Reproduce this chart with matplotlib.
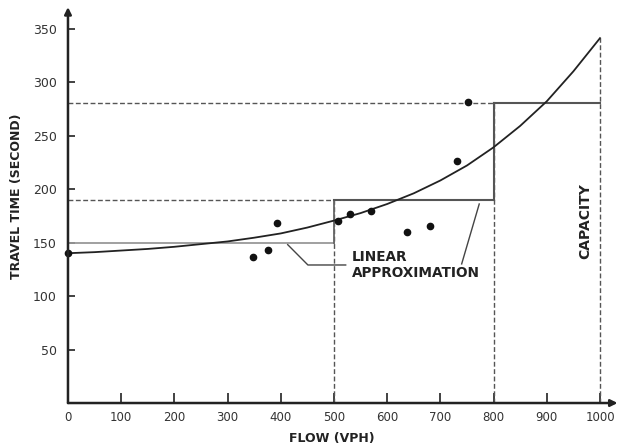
import matplotlib.pyplot as plt

# fitted travel time curve, every 50 vph
curve_flow = [0, 50, 100, 150, 200, 250, 300, 350, 400, 450, 500,
              550, 600, 650, 700, 750, 800, 850, 900, 950, 1000]
curve_time = [140, 141, 142.5, 144, 146, 148.5, 151, 154.5, 158.5, 164, 170.5,
              177.5, 186, 196, 208, 222, 239, 259, 282, 310, 341]

# observed points
obs_flow = [0, 348, 376, 393, 507, 530, 569, 637, 680, 731, 752]
obs_time = [140, 136, 143, 168, 170, 177, 179, 160, 165, 226, 281]

# linear (step) approximation
step_edges = [0, 500, 800, 1000]
step_times = [150, 190, 280]
capacity = 1000

xticks = [0, 100, 200, 300, 400, 500, 600, 700, 800, 900, 1000]
yticks = [50, 100, 150, 200, 250, 300, 350]

fig = plt.figure(figsize=(6.18, 4.48), dpi=100)
ax = fig.add_axes([0.110, 0.1004, 0.891, 0.8885])
ax.set_xlim(0, 1035)
ax.set_ylim(0, 372)

for s in ax.spines.values():
    s.set_visible(False)

# axes with arrow heads
ax.annotate('', xy=(0, 370), xytext=(0, 0),
            arrowprops=dict(arrowstyle='-|>', lw=1.8, color='#222', mutation_scale=10, shrinkA=0, shrinkB=0))
ax.annotate('', xy=(1033, 0), xytext=(0, 0),
            arrowprops=dict(arrowstyle='-|>', lw=1.8, color='#222', mutation_scale=10, shrinkA=0, shrinkB=0))

dash = dict(color='#555', lw=1.0, ls=(0, (3.5, 1.8)))
# dashed guide lines
ax.plot([0, step_edges[1]], [step_times[1], step_times[1]], **dash)
ax.plot([0, step_edges[2]], [step_times[2], step_times[2]], **dash)
ax.plot([step_edges[1], step_edges[1]], [0, step_times[1]], **dash)
ax.plot([step_edges[2], step_edges[2]], [0, step_times[2]], **dash)
ax.plot([capacity, capacity], [0, curve_time[-1]], **dash)

# step approximation
ax.plot([0, 500], [step_times[0], step_times[0]], color='#999', lw=1.3)
ax.plot([500, 500], [step_times[0], step_times[1]], color='#666', lw=1.3)
ax.plot([500, 800], [step_times[1], step_times[1]], color='#555', lw=1.5)
ax.plot([800, 800], [step_times[1], step_times[2]], color='#555', lw=1.5)
ax.plot([800, 1000], [step_times[2], step_times[2]], color='#555', lw=1.5)

# curve and observations
ax.plot(curve_flow, curve_time, color='#222', lw=1.3)
ax.plot(obs_flow, obs_time, 'o', color='#111', ms=4.5, clip_on=False)

# leader lines for label
ax.plot([413, 451, 522], [148, 129, 129], color='#444', lw=1.0)
ax.plot([740, 773], [130, 186], color='#444', lw=1.0)

ax.text(534, 129, 'LINEAR\nAPPROXIMATION', fontsize=9.8, fontweight='bold',
        color='#222', ha='left', va='center', linespacing=1.1)
ax.text(972, 170, 'CAPACITY', fontsize=10, fontweight='bold', color='#222',
        rotation=90, ha='center', va='center')

ax.set_xticks(xticks)
ax.set_yticks(yticks)
ax.tick_params(axis='x', direction='in', length=7, width=1.3, color='#333',
               labelsize=8.5, labelcolor='#333', pad=6)
ax.tick_params(axis='y', direction='in', length=5, width=1.3, color='#333',
               labelsize=9, labelcolor='#333', pad=8)
ax.set_xlabel('FLOW (VPH)', fontsize=9, fontweight='bold', color='#222')
ax.set_ylabel('TRAVEL TIME (SECOND)', fontsize=9, fontweight='bold', color='#222')
ax.xaxis.set_label_coords(495 / 1035, -0.072)
ax.yaxis.set_label_coords(-0.081, 0.52)

fig.savefig('out.png', dpi=100)
